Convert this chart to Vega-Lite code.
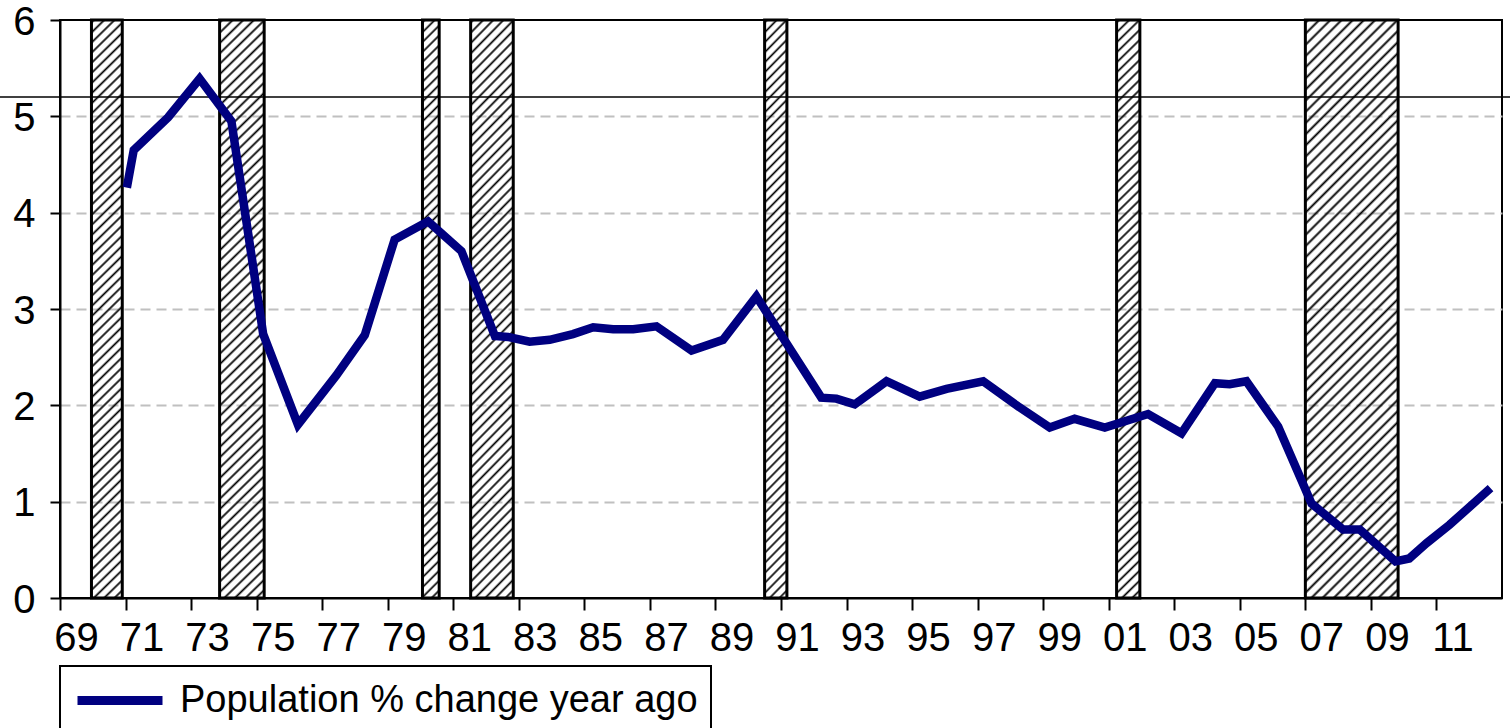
{
"$schema": "https://vega.github.io/schema/vega-lite/v6.json",
"width": 1442,
"height": 578,
"autosize": {"type": "none"},
"padding": {"left": 60, "top": 20, "right": 8, "bottom": 130},
"background": "#ffffff",
"config": {"view": {"stroke": "#000000", "strokeWidth": 2}, "font": "Liberation Sans", "legend": {"strokeWidth": 2}},
"datasets": {
"population": [
{"t": 1971.04, "v": 4.26, "s": "Population % change year ago"},
{"t": 1971.25, "v": 4.65, "s": "Population % change year ago"},
{"t": 1972.3, "v": 4.99, "s": "Population % change year ago"},
{"t": 1973.26, "v": 5.39, "s": "Population % change year ago"},
{"t": 1974.23, "v": 4.95, "s": "Population % change year ago"},
{"t": 1975.2, "v": 2.74, "s": "Population % change year ago"},
{"t": 1976.26, "v": 1.8, "s": "Population % change year ago"},
{"t": 1977.43, "v": 2.31, "s": "Population % change year ago"},
{"t": 1978.3, "v": 2.73, "s": "Population % change year ago"},
{"t": 1979.21, "v": 3.72, "s": "Population % change year ago"},
{"t": 1980.23, "v": 3.91, "s": "Population % change year ago"},
{"t": 1981.25, "v": 3.6, "s": "Population % change year ago"},
{"t": 1982.27, "v": 2.72, "s": "Population % change year ago"},
{"t": 1982.67, "v": 2.71, "s": "Population % change year ago"},
{"t": 1983.33, "v": 2.66, "s": "Population % change year ago"},
{"t": 1983.94, "v": 2.68, "s": "Population % change year ago"},
{"t": 1984.65, "v": 2.74, "s": "Population % change year ago"},
{"t": 1985.27, "v": 2.81, "s": "Population % change year ago"},
{"t": 1985.88, "v": 2.79, "s": "Population % change year ago"},
{"t": 1986.49, "v": 2.79, "s": "Population % change year ago"},
{"t": 1987.2, "v": 2.82, "s": "Population % change year ago"},
{"t": 1988.27, "v": 2.57, "s": "Population % change year ago"},
{"t": 1989.23, "v": 2.68, "s": "Population % change year ago"},
{"t": 1990.25, "v": 3.13, "s": "Population % change year ago"},
{"t": 1992.23, "v": 2.08, "s": "Population % change year ago"},
{"t": 1992.69, "v": 2.07, "s": "Population % change year ago"},
{"t": 1993.25, "v": 2.01, "s": "Population % change year ago"},
{"t": 1994.22, "v": 2.25, "s": "Population % change year ago"},
{"t": 1995.23, "v": 2.09, "s": "Population % change year ago"},
{"t": 1996.05, "v": 2.17, "s": "Population % change year ago"},
{"t": 1997.17, "v": 2.25, "s": "Population % change year ago"},
{"t": 1998.23, "v": 1.99, "s": "Population % change year ago"},
{"t": 1999.2, "v": 1.77, "s": "Population % change year ago"},
{"t": 1999.96, "v": 1.86, "s": "Population % change year ago"},
{"t": 2000.88, "v": 1.77, "s": "Population % change year ago"},
{"t": 2002.2, "v": 1.91, "s": "Population % change year ago"},
{"t": 2003.22, "v": 1.71, "s": "Population % change year ago"},
{"t": 2004.24, "v": 2.23, "s": "Population % change year ago"},
{"t": 2004.69, "v": 2.22, "s": "Population % change year ago"},
{"t": 2005.2, "v": 2.25, "s": "Population % change year ago"},
{"t": 2006.17, "v": 1.78, "s": "Population % change year ago"},
{"t": 2007.19, "v": 0.98, "s": "Population % change year ago"},
{"t": 2008.15, "v": 0.71, "s": "Population % change year ago"},
{"t": 2008.66, "v": 0.71, "s": "Population % change year ago"},
{"t": 2009.75, "v": 0.38, "s": "Population % change year ago"},
{"t": 2010.17, "v": 0.41, "s": "Population % change year ago"},
{"t": 2010.7, "v": 0.57, "s": "Population % change year ago"},
{"t": 2011.4, "v": 0.76, "s": "Population % change year ago"},
{"t": 2012.65, "v": 1.14, "s": "Population % change year ago"}
],
"recessions": [
{"start": 1969.96, "end": 1970.9},
{"start": 1973.87, "end": 1975.23},
{"start": 1980.06, "end": 1980.57},
{"start": 1981.53, "end": 1982.83},
{"start": 1990.5, "end": 1991.18},
{"start": 2001.24, "end": 2001.95},
{"start": 2007.0, "end": 2009.83}
]
},
"layer": [
{
"data": {"name": "recessions"},
"mark": {"type": "rect", "stroke": "#000000", "strokeWidth": 3},
"encoding": {
"x": {"field": "start", "type": "quantitative", "scale": {"domain": [1969, 2013], "nice": false, "zero": false},
"axis": {"values": [1969,1970,1971,1972,1973,1974,1975,1976,1977,1978,1979,1980,1981,1982,1983,1984,1985,1986,1987,1988,1989,1990,1991,1992,1993,1994,1995,1996,1997,1998,1999,2000,2001,2002,2003,2004,2005,2006,2007,2008,2009,2010,2011,2012],
"labelExpr": "datum.value % 2 == 1 ? substring(toString(datum.value), 2) : ''",
"labelOffset": 16, "labelFont": "Liberation Sans", "labelFontSize": 40, "labelColor": "#000000", "labelPadding": 8,
"tickSize": 12, "tickWidth": 2, "tickColor": "#000000", "domainColor": "#000000", "domainWidth": 2,
"grid": false, "title": null, "labelOverlap": false, "labelBound": false, "labelFlush": false}},
"x2": {"field": "end"},
"fill": {
"condition": [
{"test": "datum.end - datum.start < 0.6", "value": {"gradient": "linear", "x1": 0, "y1": 0, "x2": 0.0297, "y2": 1.028, "stops": [{"offset":0,"color":"transparent"},{"offset":0.004,"color":"#000"},{"offset":0.008,"color":"transparent"},{"offset":0.0167,"color":"transparent"},{"offset":0.0207,"color":"#000"},{"offset":0.0247,"color":"transparent"},{"offset":0.0333,"color":"transparent"},{"offset":0.0373,"color":"#000"},{"offset":0.0413,"color":"transparent"},{"offset":0.05,"color":"transparent"},{"offset":0.054,"color":"#000"},{"offset":0.058,"color":"transparent"},{"offset":0.0667,"color":"transparent"},{"offset":0.0707,"color":"#000"},{"offset":0.0747,"color":"transparent"},{"offset":0.0833,"color":"transparent"},{"offset":0.0873,"color":"#000"},{"offset":0.0913,"color":"transparent"},{"offset":0.1,"color":"transparent"},{"offset":0.104,"color":"#000"},{"offset":0.108,"color":"transparent"},{"offset":0.1167,"color":"transparent"},{"offset":0.1207,"color":"#000"},{"offset":0.1247,"color":"transparent"},{"offset":0.1333,"color":"transparent"},{"offset":0.1373,"color":"#000"},{"offset":0.1413,"color":"transparent"},{"offset":0.15,"color":"transparent"},{"offset":0.154,"color":"#000"},{"offset":0.158,"color":"transparent"},{"offset":0.1667,"color":"transparent"},{"offset":0.1707,"color":"#000"},{"offset":0.1747,"color":"transparent"},{"offset":0.1833,"color":"transparent"},{"offset":0.1873,"color":"#000"},{"offset":0.1913,"color":"transparent"},{"offset":0.2,"color":"transparent"},{"offset":0.204,"color":"#000"},{"offset":0.208,"color":"transparent"},{"offset":0.2167,"color":"transparent"},{"offset":0.2207,"color":"#000"},{"offset":0.2247,"color":"transparent"},{"offset":0.2333,"color":"transparent"},{"offset":0.2373,"color":"#000"},{"offset":0.2413,"color":"transparent"},{"offset":0.25,"color":"transparent"},{"offset":0.254,"color":"#000"},{"offset":0.258,"color":"transparent"},{"offset":0.2667,"color":"transparent"},{"offset":0.2707,"color":"#000"},{"offset":0.2747,"color":"transparent"},{"offset":0.2833,"color":"transparent"},{"offset":0.2873,"color":"#000"},{"offset":0.2913,"color":"transparent"},{"offset":0.3,"color":"transparent"},{"offset":0.304,"color":"#000"},{"offset":0.308,"color":"transparent"},{"offset":0.3167,"color":"transparent"},{"offset":0.3207,"color":"#000"},{"offset":0.3247,"color":"transparent"},{"offset":0.3333,"color":"transparent"},{"offset":0.3373,"color":"#000"},{"offset":0.3413,"color":"transparent"},{"offset":0.35,"color":"transparent"},{"offset":0.354,"color":"#000"},{"offset":0.358,"color":"transparent"},{"offset":0.3667,"color":"transparent"},{"offset":0.3707,"color":"#000"},{"offset":0.3747,"color":"transparent"},{"offset":0.3833,"color":"transparent"},{"offset":0.3873,"color":"#000"},{"offset":0.3913,"color":"transparent"},{"offset":0.4,"color":"transparent"},{"offset":0.404,"color":"#000"},{"offset":0.408,"color":"transparent"},{"offset":0.4167,"color":"transparent"},{"offset":0.4207,"color":"#000"},{"offset":0.4247,"color":"transparent"},{"offset":0.4333,"color":"transparent"},{"offset":0.4373,"color":"#000"},{"offset":0.4413,"color":"transparent"},{"offset":0.45,"color":"transparent"},{"offset":0.454,"color":"#000"},{"offset":0.458,"color":"transparent"},{"offset":0.4667,"color":"transparent"},{"offset":0.4707,"color":"#000"},{"offset":0.4747,"color":"transparent"},{"offset":0.4833,"color":"transparent"},{"offset":0.4873,"color":"#000"},{"offset":0.4913,"color":"transparent"},{"offset":0.5,"color":"transparent"},{"offset":0.504,"color":"#000"},{"offset":0.508,"color":"transparent"},{"offset":0.5167,"color":"transparent"},{"offset":0.5207,"color":"#000"},{"offset":0.5247,"color":"transparent"},{"offset":0.5333,"color":"transparent"},{"offset":0.5373,"color":"#000"},{"offset":0.5413,"color":"transparent"},{"offset":0.55,"color":"transparent"},{"offset":0.554,"color":"#000"},{"offset":0.558,"color":"transparent"},{"offset":0.5667,"color":"transparent"},{"offset":0.5707,"color":"#000"},{"offset":0.5747,"color":"transparent"},{"offset":0.5833,"color":"transparent"},{"offset":0.5873,"color":"#000"},{"offset":0.5913,"color":"transparent"},{"offset":0.6,"color":"transparent"},{"offset":0.604,"color":"#000"},{"offset":0.608,"color":"transparent"},{"offset":0.6167,"color":"transparent"},{"offset":0.6207,"color":"#000"},{"offset":0.6247,"color":"transparent"},{"offset":0.6333,"color":"transparent"},{"offset":0.6373,"color":"#000"},{"offset":0.6413,"color":"transparent"},{"offset":0.65,"color":"transparent"},{"offset":0.654,"color":"#000"},{"offset":0.658,"color":"transparent"},{"offset":0.6667,"color":"transparent"},{"offset":0.6707,"color":"#000"},{"offset":0.6747,"color":"transparent"},{"offset":0.6833,"color":"transparent"},{"offset":0.6873,"color":"#000"},{"offset":0.6913,"color":"transparent"},{"offset":0.7,"color":"transparent"},{"offset":0.704,"color":"#000"},{"offset":0.708,"color":"transparent"},{"offset":0.7167,"color":"transparent"},{"offset":0.7207,"color":"#000"},{"offset":0.7247,"color":"transparent"},{"offset":0.7333,"color":"transparent"},{"offset":0.7373,"color":"#000"},{"offset":0.7413,"color":"transparent"},{"offset":0.75,"color":"transparent"},{"offset":0.754,"color":"#000"},{"offset":0.758,"color":"transparent"},{"offset":0.7667,"color":"transparent"},{"offset":0.7707,"color":"#000"},{"offset":0.7747,"color":"transparent"},{"offset":0.7833,"color":"transparent"},{"offset":0.7873,"color":"#000"},{"offset":0.7913,"color":"transparent"},{"offset":0.8,"color":"transparent"},{"offset":0.804,"color":"#000"},{"offset":0.808,"color":"transparent"},{"offset":0.8167,"color":"transparent"},{"offset":0.8207,"color":"#000"},{"offset":0.8247,"color":"transparent"},{"offset":0.8333,"color":"transparent"},{"offset":0.8373,"color":"#000"},{"offset":0.8413,"color":"transparent"},{"offset":0.85,"color":"transparent"},{"offset":0.854,"color":"#000"},{"offset":0.858,"color":"transparent"},{"offset":0.8667,"color":"transparent"},{"offset":0.8707,"color":"#000"},{"offset":0.8747,"color":"transparent"},{"offset":0.8833,"color":"transparent"},{"offset":0.8873,"color":"#000"},{"offset":0.8913,"color":"transparent"},{"offset":0.9,"color":"transparent"},{"offset":0.904,"color":"#000"},{"offset":0.908,"color":"transparent"},{"offset":0.9167,"color":"transparent"},{"offset":0.9207,"color":"#000"},{"offset":0.9247,"color":"transparent"},{"offset":0.9333,"color":"transparent"},{"offset":0.9373,"color":"#000"},{"offset":0.9413,"color":"transparent"},{"offset":0.95,"color":"transparent"},{"offset":0.954,"color":"#000"},{"offset":0.958,"color":"transparent"},{"offset":0.9667,"color":"transparent"},{"offset":0.9707,"color":"#000"},{"offset":0.9747,"color":"transparent"},{"offset":0.9833,"color":"transparent"},{"offset":0.9873,"color":"#000"},{"offset":0.9913,"color":"transparent"}]}},
{"test": "datum.end - datum.start < 0.8", "value": {"gradient": "linear", "x1": 0, "y1": 0, "x2": 0.0409, "y2": 1.0378, "stops": [{"offset":0,"color":"transparent"},{"offset":0.004,"color":"#000"},{"offset":0.008,"color":"transparent"},{"offset":0.0167,"color":"transparent"},{"offset":0.0207,"color":"#000"},{"offset":0.0247,"color":"transparent"},{"offset":0.0333,"color":"transparent"},{"offset":0.0373,"color":"#000"},{"offset":0.0413,"color":"transparent"},{"offset":0.05,"color":"transparent"},{"offset":0.054,"color":"#000"},{"offset":0.058,"color":"transparent"},{"offset":0.0667,"color":"transparent"},{"offset":0.0707,"color":"#000"},{"offset":0.0747,"color":"transparent"},{"offset":0.0833,"color":"transparent"},{"offset":0.0873,"color":"#000"},{"offset":0.0913,"color":"transparent"},{"offset":0.1,"color":"transparent"},{"offset":0.104,"color":"#000"},{"offset":0.108,"color":"transparent"},{"offset":0.1167,"color":"transparent"},{"offset":0.1207,"color":"#000"},{"offset":0.1247,"color":"transparent"},{"offset":0.1333,"color":"transparent"},{"offset":0.1373,"color":"#000"},{"offset":0.1413,"color":"transparent"},{"offset":0.15,"color":"transparent"},{"offset":0.154,"color":"#000"},{"offset":0.158,"color":"transparent"},{"offset":0.1667,"color":"transparent"},{"offset":0.1707,"color":"#000"},{"offset":0.1747,"color":"transparent"},{"offset":0.1833,"color":"transparent"},{"offset":0.1873,"color":"#000"},{"offset":0.1913,"color":"transparent"},{"offset":0.2,"color":"transparent"},{"offset":0.204,"color":"#000"},{"offset":0.208,"color":"transparent"},{"offset":0.2167,"color":"transparent"},{"offset":0.2207,"color":"#000"},{"offset":0.2247,"color":"transparent"},{"offset":0.2333,"color":"transparent"},{"offset":0.2373,"color":"#000"},{"offset":0.2413,"color":"transparent"},{"offset":0.25,"color":"transparent"},{"offset":0.254,"color":"#000"},{"offset":0.258,"color":"transparent"},{"offset":0.2667,"color":"transparent"},{"offset":0.2707,"color":"#000"},{"offset":0.2747,"color":"transparent"},{"offset":0.2833,"color":"transparent"},{"offset":0.2873,"color":"#000"},{"offset":0.2913,"color":"transparent"},{"offset":0.3,"color":"transparent"},{"offset":0.304,"color":"#000"},{"offset":0.308,"color":"transparent"},{"offset":0.3167,"color":"transparent"},{"offset":0.3207,"color":"#000"},{"offset":0.3247,"color":"transparent"},{"offset":0.3333,"color":"transparent"},{"offset":0.3373,"color":"#000"},{"offset":0.3413,"color":"transparent"},{"offset":0.35,"color":"transparent"},{"offset":0.354,"color":"#000"},{"offset":0.358,"color":"transparent"},{"offset":0.3667,"color":"transparent"},{"offset":0.3707,"color":"#000"},{"offset":0.3747,"color":"transparent"},{"offset":0.3833,"color":"transparent"},{"offset":0.3873,"color":"#000"},{"offset":0.3913,"color":"transparent"},{"offset":0.4,"color":"transparent"},{"offset":0.404,"color":"#000"},{"offset":0.408,"color":"transparent"},{"offset":0.4167,"color":"transparent"},{"offset":0.4207,"color":"#000"},{"offset":0.4247,"color":"transparent"},{"offset":0.4333,"color":"transparent"},{"offset":0.4373,"color":"#000"},{"offset":0.4413,"color":"transparent"},{"offset":0.45,"color":"transparent"},{"offset":0.454,"color":"#000"},{"offset":0.458,"color":"transparent"},{"offset":0.4667,"color":"transparent"},{"offset":0.4707,"color":"#000"},{"offset":0.4747,"color":"transparent"},{"offset":0.4833,"color":"transparent"},{"offset":0.4873,"color":"#000"},{"offset":0.4913,"color":"transparent"},{"offset":0.5,"color":"transparent"},{"offset":0.504,"color":"#000"},{"offset":0.508,"color":"transparent"},{"offset":0.5167,"color":"transparent"},{"offset":0.5207,"color":"#000"},{"offset":0.5247,"color":"transparent"},{"offset":0.5333,"color":"transparent"},{"offset":0.5373,"color":"#000"},{"offset":0.5413,"color":"transparent"},{"offset":0.55,"color":"transparent"},{"offset":0.554,"color":"#000"},{"offset":0.558,"color":"transparent"},{"offset":0.5667,"color":"transparent"},{"offset":0.5707,"color":"#000"},{"offset":0.5747,"color":"transparent"},{"offset":0.5833,"color":"transparent"},{"offset":0.5873,"color":"#000"},{"offset":0.5913,"color":"transparent"},{"offset":0.6,"color":"transparent"},{"offset":0.604,"color":"#000"},{"offset":0.608,"color":"transparent"},{"offset":0.6167,"color":"transparent"},{"offset":0.6207,"color":"#000"},{"offset":0.6247,"color":"transparent"},{"offset":0.6333,"color":"transparent"},{"offset":0.6373,"color":"#000"},{"offset":0.6413,"color":"transparent"},{"offset":0.65,"color":"transparent"},{"offset":0.654,"color":"#000"},{"offset":0.658,"color":"transparent"},{"offset":0.6667,"color":"transparent"},{"offset":0.6707,"color":"#000"},{"offset":0.6747,"color":"transparent"},{"offset":0.6833,"color":"transparent"},{"offset":0.6873,"color":"#000"},{"offset":0.6913,"color":"transparent"},{"offset":0.7,"color":"transparent"},{"offset":0.704,"color":"#000"},{"offset":0.708,"color":"transparent"},{"offset":0.7167,"color":"transparent"},{"offset":0.7207,"color":"#000"},{"offset":0.7247,"color":"transparent"},{"offset":0.7333,"color":"transparent"},{"offset":0.7373,"color":"#000"},{"offset":0.7413,"color":"transparent"},{"offset":0.75,"color":"transparent"},{"offset":0.754,"color":"#000"},{"offset":0.758,"color":"transparent"},{"offset":0.7667,"color":"transparent"},{"offset":0.7707,"color":"#000"},{"offset":0.7747,"color":"transparent"},{"offset":0.7833,"color":"transparent"},{"offset":0.7873,"color":"#000"},{"offset":0.7913,"color":"transparent"},{"offset":0.8,"color":"transparent"},{"offset":0.804,"color":"#000"},{"offset":0.808,"color":"transparent"},{"offset":0.8167,"color":"transparent"},{"offset":0.8207,"color":"#000"},{"offset":0.8247,"color":"transparent"},{"offset":0.8333,"color":"transparent"},{"offset":0.8373,"color":"#000"},{"offset":0.8413,"color":"transparent"},{"offset":0.85,"color":"transparent"},{"offset":0.854,"color":"#000"},{"offset":0.858,"color":"transparent"},{"offset":0.8667,"color":"transparent"},{"offset":0.8707,"color":"#000"},{"offset":0.8747,"color":"transparent"},{"offset":0.8833,"color":"transparent"},{"offset":0.8873,"color":"#000"},{"offset":0.8913,"color":"transparent"},{"offset":0.9,"color":"transparent"},{"offset":0.904,"color":"#000"},{"offset":0.908,"color":"transparent"},{"offset":0.9167,"color":"transparent"},{"offset":0.9207,"color":"#000"},{"offset":0.9247,"color":"transparent"},{"offset":0.9333,"color":"transparent"},{"offset":0.9373,"color":"#000"},{"offset":0.9413,"color":"transparent"},{"offset":0.95,"color":"transparent"},{"offset":0.954,"color":"#000"},{"offset":0.958,"color":"transparent"},{"offset":0.9667,"color":"transparent"},{"offset":0.9707,"color":"#000"},{"offset":0.9747,"color":"transparent"},{"offset":0.9833,"color":"transparent"},{"offset":0.9873,"color":"#000"},{"offset":0.9913,"color":"transparent"}]}},
{"test": "datum.end - datum.start < 1.0", "value": {"gradient": "linear", "x1": 0, "y1": 0, "x2": 0.0548, "y2": 1.0494, "stops": [{"offset":0,"color":"transparent"},{"offset":0.004,"color":"#000"},{"offset":0.008,"color":"transparent"},{"offset":0.0167,"color":"transparent"},{"offset":0.0207,"color":"#000"},{"offset":0.0247,"color":"transparent"},{"offset":0.0333,"color":"transparent"},{"offset":0.0373,"color":"#000"},{"offset":0.0413,"color":"transparent"},{"offset":0.05,"color":"transparent"},{"offset":0.054,"color":"#000"},{"offset":0.058,"color":"transparent"},{"offset":0.0667,"color":"transparent"},{"offset":0.0707,"color":"#000"},{"offset":0.0747,"color":"transparent"},{"offset":0.0833,"color":"transparent"},{"offset":0.0873,"color":"#000"},{"offset":0.0913,"color":"transparent"},{"offset":0.1,"color":"transparent"},{"offset":0.104,"color":"#000"},{"offset":0.108,"color":"transparent"},{"offset":0.1167,"color":"transparent"},{"offset":0.1207,"color":"#000"},{"offset":0.1247,"color":"transparent"},{"offset":0.1333,"color":"transparent"},{"offset":0.1373,"color":"#000"},{"offset":0.1413,"color":"transparent"},{"offset":0.15,"color":"transparent"},{"offset":0.154,"color":"#000"},{"offset":0.158,"color":"transparent"},{"offset":0.1667,"color":"transparent"},{"offset":0.1707,"color":"#000"},{"offset":0.1747,"color":"transparent"},{"offset":0.1833,"color":"transparent"},{"offset":0.1873,"color":"#000"},{"offset":0.1913,"color":"transparent"},{"offset":0.2,"color":"transparent"},{"offset":0.204,"color":"#000"},{"offset":0.208,"color":"transparent"},{"offset":0.2167,"color":"transparent"},{"offset":0.2207,"color":"#000"},{"offset":0.2247,"color":"transparent"},{"offset":0.2333,"color":"transparent"},{"offset":0.2373,"color":"#000"},{"offset":0.2413,"color":"transparent"},{"offset":0.25,"color":"transparent"},{"offset":0.254,"color":"#000"},{"offset":0.258,"color":"transparent"},{"offset":0.2667,"color":"transparent"},{"offset":0.2707,"color":"#000"},{"offset":0.2747,"color":"transparent"},{"offset":0.2833,"color":"transparent"},{"offset":0.2873,"color":"#000"},{"offset":0.2913,"color":"transparent"},{"offset":0.3,"color":"transparent"},{"offset":0.304,"color":"#000"},{"offset":0.308,"color":"transparent"},{"offset":0.3167,"color":"transparent"},{"offset":0.3207,"color":"#000"},{"offset":0.3247,"color":"transparent"},{"offset":0.3333,"color":"transparent"},{"offset":0.3373,"color":"#000"},{"offset":0.3413,"color":"transparent"},{"offset":0.35,"color":"transparent"},{"offset":0.354,"color":"#000"},{"offset":0.358,"color":"transparent"},{"offset":0.3667,"color":"transparent"},{"offset":0.3707,"color":"#000"},{"offset":0.3747,"color":"transparent"},{"offset":0.3833,"color":"transparent"},{"offset":0.3873,"color":"#000"},{"offset":0.3913,"color":"transparent"},{"offset":0.4,"color":"transparent"},{"offset":0.404,"color":"#000"},{"offset":0.408,"color":"transparent"},{"offset":0.4167,"color":"transparent"},{"offset":0.4207,"color":"#000"},{"offset":0.4247,"color":"transparent"},{"offset":0.4333,"color":"transparent"},{"offset":0.4373,"color":"#000"},{"offset":0.4413,"color":"transparent"},{"offset":0.45,"color":"transparent"},{"offset":0.454,"color":"#000"},{"offset":0.458,"color":"transparent"},{"offset":0.4667,"color":"transparent"},{"offset":0.4707,"color":"#000"},{"offset":0.4747,"color":"transparent"},{"offset":0.4833,"color":"transparent"},{"offset":0.4873,"color":"#000"},{"offset":0.4913,"color":"transparent"},{"offset":0.5,"color":"transparent"},{"offset":0.504,"color":"#000"},{"offset":0.508,"color":"transparent"},{"offset":0.5167,"color":"transparent"},{"offset":0.5207,"color":"#000"},{"offset":0.5247,"color":"transparent"},{"offset":0.5333,"color":"transparent"},{"offset":0.5373,"color":"#000"},{"offset":0.5413,"color":"transparent"},{"offset":0.55,"color":"transparent"},{"offset":0.554,"color":"#000"},{"offset":0.558,"color":"transparent"},{"offset":0.5667,"color":"transparent"},{"offset":0.5707,"color":"#000"},{"offset":0.5747,"color":"transparent"},{"offset":0.5833,"color":"transparent"},{"offset":0.5873,"color":"#000"},{"offset":0.5913,"color":"transparent"},{"offset":0.6,"color":"transparent"},{"offset":0.604,"color":"#000"},{"offset":0.608,"color":"transparent"},{"offset":0.6167,"color":"transparent"},{"offset":0.6207,"color":"#000"},{"offset":0.6247,"color":"transparent"},{"offset":0.6333,"color":"transparent"},{"offset":0.6373,"color":"#000"},{"offset":0.6413,"color":"transparent"},{"offset":0.65,"color":"transparent"},{"offset":0.654,"color":"#000"},{"offset":0.658,"color":"transparent"},{"offset":0.6667,"color":"transparent"},{"offset":0.6707,"color":"#000"},{"offset":0.6747,"color":"transparent"},{"offset":0.6833,"color":"transparent"},{"offset":0.6873,"color":"#000"},{"offset":0.6913,"color":"transparent"},{"offset":0.7,"color":"transparent"},{"offset":0.704,"color":"#000"},{"offset":0.708,"color":"transparent"},{"offset":0.7167,"color":"transparent"},{"offset":0.7207,"color":"#000"},{"offset":0.7247,"color":"transparent"},{"offset":0.7333,"color":"transparent"},{"offset":0.7373,"color":"#000"},{"offset":0.7413,"color":"transparent"},{"offset":0.75,"color":"transparent"},{"offset":0.754,"color":"#000"},{"offset":0.758,"color":"transparent"},{"offset":0.7667,"color":"transparent"},{"offset":0.7707,"color":"#000"},{"offset":0.7747,"color":"transparent"},{"offset":0.7833,"color":"transparent"},{"offset":0.7873,"color":"#000"},{"offset":0.7913,"color":"transparent"},{"offset":0.8,"color":"transparent"},{"offset":0.804,"color":"#000"},{"offset":0.808,"color":"transparent"},{"offset":0.8167,"color":"transparent"},{"offset":0.8207,"color":"#000"},{"offset":0.8247,"color":"transparent"},{"offset":0.8333,"color":"transparent"},{"offset":0.8373,"color":"#000"},{"offset":0.8413,"color":"transparent"},{"offset":0.85,"color":"transparent"},{"offset":0.854,"color":"#000"},{"offset":0.858,"color":"transparent"},{"offset":0.8667,"color":"transparent"},{"offset":0.8707,"color":"#000"},{"offset":0.8747,"color":"transparent"},{"offset":0.8833,"color":"transparent"},{"offset":0.8873,"color":"#000"},{"offset":0.8913,"color":"transparent"},{"offset":0.9,"color":"transparent"},{"offset":0.904,"color":"#000"},{"offset":0.908,"color":"transparent"},{"offset":0.9167,"color":"transparent"},{"offset":0.9207,"color":"#000"},{"offset":0.9247,"color":"transparent"},{"offset":0.9333,"color":"transparent"},{"offset":0.9373,"color":"#000"},{"offset":0.9413,"color":"transparent"},{"offset":0.95,"color":"transparent"},{"offset":0.954,"color":"#000"},{"offset":0.958,"color":"transparent"},{"offset":0.9667,"color":"transparent"},{"offset":0.9707,"color":"#000"},{"offset":0.9747,"color":"transparent"},{"offset":0.9833,"color":"transparent"},{"offset":0.9873,"color":"#000"},{"offset":0.9913,"color":"transparent"}]}},
{"test": "datum.end - datum.start < 1.5", "value": {"gradient": "linear", "x1": 0, "y1": 0, "x2": 0.0805, "y2": 1.0692, "stops": [{"offset":0,"color":"transparent"},{"offset":0.004,"color":"#000"},{"offset":0.008,"color":"transparent"},{"offset":0.0167,"color":"transparent"},{"offset":0.0207,"color":"#000"},{"offset":0.0247,"color":"transparent"},{"offset":0.0333,"color":"transparent"},{"offset":0.0373,"color":"#000"},{"offset":0.0413,"color":"transparent"},{"offset":0.05,"color":"transparent"},{"offset":0.054,"color":"#000"},{"offset":0.058,"color":"transparent"},{"offset":0.0667,"color":"transparent"},{"offset":0.0707,"color":"#000"},{"offset":0.0747,"color":"transparent"},{"offset":0.0833,"color":"transparent"},{"offset":0.0873,"color":"#000"},{"offset":0.0913,"color":"transparent"},{"offset":0.1,"color":"transparent"},{"offset":0.104,"color":"#000"},{"offset":0.108,"color":"transparent"},{"offset":0.1167,"color":"transparent"},{"offset":0.1207,"color":"#000"},{"offset":0.1247,"color":"transparent"},{"offset":0.1333,"color":"transparent"},{"offset":0.1373,"color":"#000"},{"offset":0.1413,"color":"transparent"},{"offset":0.15,"color":"transparent"},{"offset":0.154,"color":"#000"},{"offset":0.158,"color":"transparent"},{"offset":0.1667,"color":"transparent"},{"offset":0.1707,"color":"#000"},{"offset":0.1747,"color":"transparent"},{"offset":0.1833,"color":"transparent"},{"offset":0.1873,"color":"#000"},{"offset":0.1913,"color":"transparent"},{"offset":0.2,"color":"transparent"},{"offset":0.204,"color":"#000"},{"offset":0.208,"color":"transparent"},{"offset":0.2167,"color":"transparent"},{"offset":0.2207,"color":"#000"},{"offset":0.2247,"color":"transparent"},{"offset":0.2333,"color":"transparent"},{"offset":0.2373,"color":"#000"},{"offset":0.2413,"color":"transparent"},{"offset":0.25,"color":"transparent"},{"offset":0.254,"color":"#000"},{"offset":0.258,"color":"transparent"},{"offset":0.2667,"color":"transparent"},{"offset":0.2707,"color":"#000"},{"offset":0.2747,"color":"transparent"},{"offset":0.2833,"color":"transparent"},{"offset":0.2873,"color":"#000"},{"offset":0.2913,"color":"transparent"},{"offset":0.3,"color":"transparent"},{"offset":0.304,"color":"#000"},{"offset":0.308,"color":"transparent"},{"offset":0.3167,"color":"transparent"},{"offset":0.3207,"color":"#000"},{"offset":0.3247,"color":"transparent"},{"offset":0.3333,"color":"transparent"},{"offset":0.3373,"color":"#000"},{"offset":0.3413,"color":"transparent"},{"offset":0.35,"color":"transparent"},{"offset":0.354,"color":"#000"},{"offset":0.358,"color":"transparent"},{"offset":0.3667,"color":"transparent"},{"offset":0.3707,"color":"#000"},{"offset":0.3747,"color":"transparent"},{"offset":0.3833,"color":"transparent"},{"offset":0.3873,"color":"#000"},{"offset":0.3913,"color":"transparent"},{"offset":0.4,"color":"transparent"},{"offset":0.404,"color":"#000"},{"offset":0.408,"color":"transparent"},{"offset":0.4167,"color":"transparent"},{"offset":0.4207,"color":"#000"},{"offset":0.4247,"color":"transparent"},{"offset":0.4333,"color":"transparent"},{"offset":0.4373,"color":"#000"},{"offset":0.4413,"color":"transparent"},{"offset":0.45,"color":"transparent"},{"offset":0.454,"color":"#000"},{"offset":0.458,"color":"transparent"},{"offset":0.4667,"color":"transparent"},{"offset":0.4707,"color":"#000"},{"offset":0.4747,"color":"transparent"},{"offset":0.4833,"color":"transparent"},{"offset":0.4873,"color":"#000"},{"offset":0.4913,"color":"transparent"},{"offset":0.5,"color":"transparent"},{"offset":0.504,"color":"#000"},{"offset":0.508,"color":"transparent"},{"offset":0.5167,"color":"transparent"},{"offset":0.5207,"color":"#000"},{"offset":0.5247,"color":"transparent"},{"offset":0.5333,"color":"transparent"},{"offset":0.5373,"color":"#000"},{"offset":0.5413,"color":"transparent"},{"offset":0.55,"color":"transparent"},{"offset":0.554,"color":"#000"},{"offset":0.558,"color":"transparent"},{"offset":0.5667,"color":"transparent"},{"offset":0.5707,"color":"#000"},{"offset":0.5747,"color":"transparent"},{"offset":0.5833,"color":"transparent"},{"offset":0.5873,"color":"#000"},{"offset":0.5913,"color":"transparent"},{"offset":0.6,"color":"transparent"},{"offset":0.604,"color":"#000"},{"offset":0.608,"color":"transparent"},{"offset":0.6167,"color":"transparent"},{"offset":0.6207,"color":"#000"},{"offset":0.6247,"color":"transparent"},{"offset":0.6333,"color":"transparent"},{"offset":0.6373,"color":"#000"},{"offset":0.6413,"color":"transparent"},{"offset":0.65,"color":"transparent"},{"offset":0.654,"color":"#000"},{"offset":0.658,"color":"transparent"},{"offset":0.6667,"color":"transparent"},{"offset":0.6707,"color":"#000"},{"offset":0.6747,"color":"transparent"},{"offset":0.6833,"color":"transparent"},{"offset":0.6873,"color":"#000"},{"offset":0.6913,"color":"transparent"},{"offset":0.7,"color":"transparent"},{"offset":0.704,"color":"#000"},{"offset":0.708,"color":"transparent"},{"offset":0.7167,"color":"transparent"},{"offset":0.7207,"color":"#000"},{"offset":0.7247,"color":"transparent"},{"offset":0.7333,"color":"transparent"},{"offset":0.7373,"color":"#000"},{"offset":0.7413,"color":"transparent"},{"offset":0.75,"color":"transparent"},{"offset":0.754,"color":"#000"},{"offset":0.758,"color":"transparent"},{"offset":0.7667,"color":"transparent"},{"offset":0.7707,"color":"#000"},{"offset":0.7747,"color":"transparent"},{"offset":0.7833,"color":"transparent"},{"offset":0.7873,"color":"#000"},{"offset":0.7913,"color":"transparent"},{"offset":0.8,"color":"transparent"},{"offset":0.804,"color":"#000"},{"offset":0.808,"color":"transparent"},{"offset":0.8167,"color":"transparent"},{"offset":0.8207,"color":"#000"},{"offset":0.8247,"color":"transparent"},{"offset":0.8333,"color":"transparent"},{"offset":0.8373,"color":"#000"},{"offset":0.8413,"color":"transparent"},{"offset":0.85,"color":"transparent"},{"offset":0.854,"color":"#000"},{"offset":0.858,"color":"transparent"},{"offset":0.8667,"color":"transparent"},{"offset":0.8707,"color":"#000"},{"offset":0.8747,"color":"transparent"},{"offset":0.8833,"color":"transparent"},{"offset":0.8873,"color":"#000"},{"offset":0.8913,"color":"transparent"},{"offset":0.9,"color":"transparent"},{"offset":0.904,"color":"#000"},{"offset":0.908,"color":"transparent"},{"offset":0.9167,"color":"transparent"},{"offset":0.9207,"color":"#000"},{"offset":0.9247,"color":"transparent"},{"offset":0.9333,"color":"transparent"},{"offset":0.9373,"color":"#000"},{"offset":0.9413,"color":"transparent"},{"offset":0.95,"color":"transparent"},{"offset":0.954,"color":"#000"},{"offset":0.958,"color":"transparent"},{"offset":0.9667,"color":"transparent"},{"offset":0.9707,"color":"#000"},{"offset":0.9747,"color":"transparent"},{"offset":0.9833,"color":"transparent"},{"offset":0.9873,"color":"#000"},{"offset":0.9913,"color":"transparent"}]}}
],
"value": {"gradient": "linear", "x1": 0, "y1": 0, "x2": 0.1814, "y2": 1.1313, "stops": [{"offset":0,"color":"transparent"},{"offset":0.004,"color":"#000"},{"offset":0.008,"color":"transparent"},{"offset":0.0167,"color":"transparent"},{"offset":0.0207,"color":"#000"},{"offset":0.0247,"color":"transparent"},{"offset":0.0333,"color":"transparent"},{"offset":0.0373,"color":"#000"},{"offset":0.0413,"color":"transparent"},{"offset":0.05,"color":"transparent"},{"offset":0.054,"color":"#000"},{"offset":0.058,"color":"transparent"},{"offset":0.0667,"color":"transparent"},{"offset":0.0707,"color":"#000"},{"offset":0.0747,"color":"transparent"},{"offset":0.0833,"color":"transparent"},{"offset":0.0873,"color":"#000"},{"offset":0.0913,"color":"transparent"},{"offset":0.1,"color":"transparent"},{"offset":0.104,"color":"#000"},{"offset":0.108,"color":"transparent"},{"offset":0.1167,"color":"transparent"},{"offset":0.1207,"color":"#000"},{"offset":0.1247,"color":"transparent"},{"offset":0.1333,"color":"transparent"},{"offset":0.1373,"color":"#000"},{"offset":0.1413,"color":"transparent"},{"offset":0.15,"color":"transparent"},{"offset":0.154,"color":"#000"},{"offset":0.158,"color":"transparent"},{"offset":0.1667,"color":"transparent"},{"offset":0.1707,"color":"#000"},{"offset":0.1747,"color":"transparent"},{"offset":0.1833,"color":"transparent"},{"offset":0.1873,"color":"#000"},{"offset":0.1913,"color":"transparent"},{"offset":0.2,"color":"transparent"},{"offset":0.204,"color":"#000"},{"offset":0.208,"color":"transparent"},{"offset":0.2167,"color":"transparent"},{"offset":0.2207,"color":"#000"},{"offset":0.2247,"color":"transparent"},{"offset":0.2333,"color":"transparent"},{"offset":0.2373,"color":"#000"},{"offset":0.2413,"color":"transparent"},{"offset":0.25,"color":"transparent"},{"offset":0.254,"color":"#000"},{"offset":0.258,"color":"transparent"},{"offset":0.2667,"color":"transparent"},{"offset":0.2707,"color":"#000"},{"offset":0.2747,"color":"transparent"},{"offset":0.2833,"color":"transparent"},{"offset":0.2873,"color":"#000"},{"offset":0.2913,"color":"transparent"},{"offset":0.3,"color":"transparent"},{"offset":0.304,"color":"#000"},{"offset":0.308,"color":"transparent"},{"offset":0.3167,"color":"transparent"},{"offset":0.3207,"color":"#000"},{"offset":0.3247,"color":"transparent"},{"offset":0.3333,"color":"transparent"},{"offset":0.3373,"color":"#000"},{"offset":0.3413,"color":"transparent"},{"offset":0.35,"color":"transparent"},{"offset":0.354,"color":"#000"},{"offset":0.358,"color":"transparent"},{"offset":0.3667,"color":"transparent"},{"offset":0.3707,"color":"#000"},{"offset":0.3747,"color":"transparent"},{"offset":0.3833,"color":"transparent"},{"offset":0.3873,"color":"#000"},{"offset":0.3913,"color":"transparent"},{"offset":0.4,"color":"transparent"},{"offset":0.404,"color":"#000"},{"offset":0.408,"color":"transparent"},{"offset":0.4167,"color":"transparent"},{"offset":0.4207,"color":"#000"},{"offset":0.4247,"color":"transparent"},{"offset":0.4333,"color":"transparent"},{"offset":0.4373,"color":"#000"},{"offset":0.4413,"color":"transparent"},{"offset":0.45,"color":"transparent"},{"offset":0.454,"color":"#000"},{"offset":0.458,"color":"transparent"},{"offset":0.4667,"color":"transparent"},{"offset":0.4707,"color":"#000"},{"offset":0.4747,"color":"transparent"},{"offset":0.4833,"color":"transparent"},{"offset":0.4873,"color":"#000"},{"offset":0.4913,"color":"transparent"},{"offset":0.5,"color":"transparent"},{"offset":0.504,"color":"#000"},{"offset":0.508,"color":"transparent"},{"offset":0.5167,"color":"transparent"},{"offset":0.5207,"color":"#000"},{"offset":0.5247,"color":"transparent"},{"offset":0.5333,"color":"transparent"},{"offset":0.5373,"color":"#000"},{"offset":0.5413,"color":"transparent"},{"offset":0.55,"color":"transparent"},{"offset":0.554,"color":"#000"},{"offset":0.558,"color":"transparent"},{"offset":0.5667,"color":"transparent"},{"offset":0.5707,"color":"#000"},{"offset":0.5747,"color":"transparent"},{"offset":0.5833,"color":"transparent"},{"offset":0.5873,"color":"#000"},{"offset":0.5913,"color":"transparent"},{"offset":0.6,"color":"transparent"},{"offset":0.604,"color":"#000"},{"offset":0.608,"color":"transparent"},{"offset":0.6167,"color":"transparent"},{"offset":0.6207,"color":"#000"},{"offset":0.6247,"color":"transparent"},{"offset":0.6333,"color":"transparent"},{"offset":0.6373,"color":"#000"},{"offset":0.6413,"color":"transparent"},{"offset":0.65,"color":"transparent"},{"offset":0.654,"color":"#000"},{"offset":0.658,"color":"transparent"},{"offset":0.6667,"color":"transparent"},{"offset":0.6707,"color":"#000"},{"offset":0.6747,"color":"transparent"},{"offset":0.6833,"color":"transparent"},{"offset":0.6873,"color":"#000"},{"offset":0.6913,"color":"transparent"},{"offset":0.7,"color":"transparent"},{"offset":0.704,"color":"#000"},{"offset":0.708,"color":"transparent"},{"offset":0.7167,"color":"transparent"},{"offset":0.7207,"color":"#000"},{"offset":0.7247,"color":"transparent"},{"offset":0.7333,"color":"transparent"},{"offset":0.7373,"color":"#000"},{"offset":0.7413,"color":"transparent"},{"offset":0.75,"color":"transparent"},{"offset":0.754,"color":"#000"},{"offset":0.758,"color":"transparent"},{"offset":0.7667,"color":"transparent"},{"offset":0.7707,"color":"#000"},{"offset":0.7747,"color":"transparent"},{"offset":0.7833,"color":"transparent"},{"offset":0.7873,"color":"#000"},{"offset":0.7913,"color":"transparent"},{"offset":0.8,"color":"transparent"},{"offset":0.804,"color":"#000"},{"offset":0.808,"color":"transparent"},{"offset":0.8167,"color":"transparent"},{"offset":0.8207,"color":"#000"},{"offset":0.8247,"color":"transparent"},{"offset":0.8333,"color":"transparent"},{"offset":0.8373,"color":"#000"},{"offset":0.8413,"color":"transparent"},{"offset":0.85,"color":"transparent"},{"offset":0.854,"color":"#000"},{"offset":0.858,"color":"transparent"},{"offset":0.8667,"color":"transparent"},{"offset":0.8707,"color":"#000"},{"offset":0.8747,"color":"transparent"},{"offset":0.8833,"color":"transparent"},{"offset":0.8873,"color":"#000"},{"offset":0.8913,"color":"transparent"},{"offset":0.9,"color":"transparent"},{"offset":0.904,"color":"#000"},{"offset":0.908,"color":"transparent"},{"offset":0.9167,"color":"transparent"},{"offset":0.9207,"color":"#000"},{"offset":0.9247,"color":"transparent"},{"offset":0.9333,"color":"transparent"},{"offset":0.9373,"color":"#000"},{"offset":0.9413,"color":"transparent"},{"offset":0.95,"color":"transparent"},{"offset":0.954,"color":"#000"},{"offset":0.958,"color":"transparent"},{"offset":0.9667,"color":"transparent"},{"offset":0.9707,"color":"#000"},{"offset":0.9747,"color":"transparent"},{"offset":0.9833,"color":"transparent"},{"offset":0.9873,"color":"#000"},{"offset":0.9913,"color":"transparent"}]}
}
}
},
{
"data": {"values": [{}]},
"mark": {"type": "rule", "color": "#000000", "strokeWidth": 1.5},
"encoding": {
"x": {"datum": 1967.16, "type": "quantitative", "scale": {"domain": [1969, 2013], "nice": false, "zero": false}},
"x2": {"datum": 2013.25},
"y": {"datum": 5.2, "type": "quantitative", "scale": {"domain": [0, 6], "nice": false, "zero": false}}
}
},
{
"data": {"name": "population"},
"mark": {"type": "line", "strokeWidth": 8.5, "strokeJoin": "miter", "strokeCap": "butt"},
"encoding": {
"x": {"field": "t", "type": "quantitative", "scale": {"domain": [1969, 2013], "nice": false, "zero": false}},
"y": {"field": "v", "type": "quantitative", "scale": {"domain": [0, 6], "nice": false, "zero": false},
"axis": {"values": [0, 1, 2, 3, 4, 5, 6], "format": "d", "labelFont": "Liberation Sans", "labelFontSize": 40, "labelColor": "#000000", "labelPadding": 15, "labelOffset": 2,
"tickSize": 10, "tickWidth": 2, "tickColor": "#000000", "domainColor": "#000000", "domainWidth": 2,
"grid": true, "gridDash": [10, 6], "gridWidth": 2,
"gridColor": {"condition": {"test": "datum.value == 0 || datum.value == 6", "value": "transparent"}, "value": "#c0c0c0"},
"title": null, "labelOverlap": false, "labelBound": false, "labelFlush": false}},
"color": {"field": "s", "type": "nominal", "scale": {"range": ["#000080"]},
"legend": {"orient": "none", "legendX": 0, "legendY": 646, "title": null, "direction": "vertical", "padding": 13,
"strokeColor": "#000000", "fillColor": "#ffffff", "cornerRadius": 0,
"symbolType": "M-1,0H4", "symbolSize": 1156, "symbolStrokeWidth": 9,
"labelFont": "Liberation Sans", "labelFontSize": 38, "labelColor": "#000000", "labelOffset": 64, "labelLimit": 1000}}
}
}
]
}
